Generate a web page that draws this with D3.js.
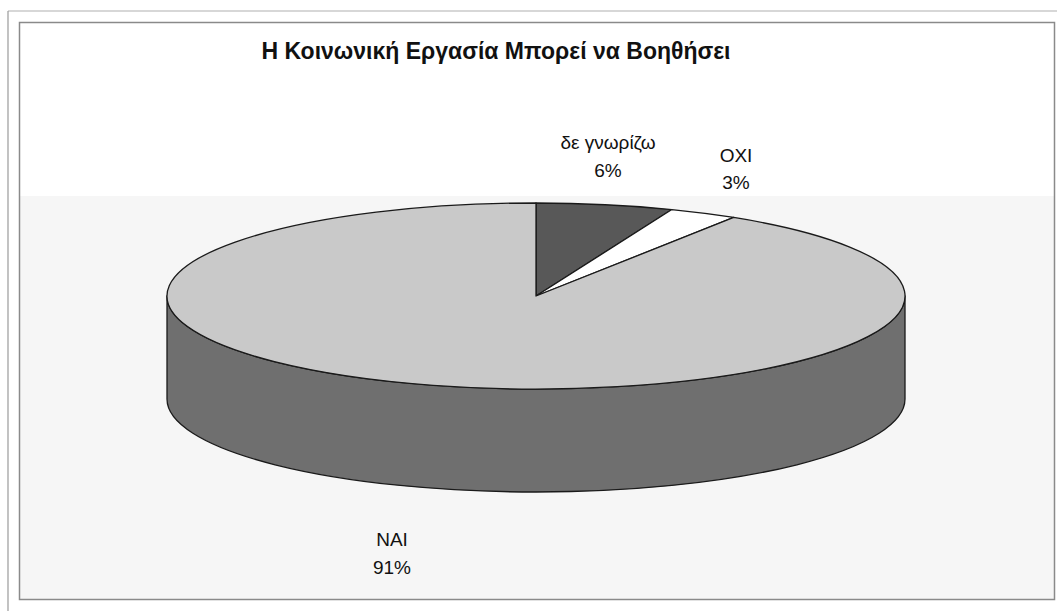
<!DOCTYPE html>
<html>
<head>
<meta charset="utf-8">
<script src="https://cdn.jsdelivr.net/npm/d3@7"></script>
<style>
  html, body { margin: 0; padding: 0; background: #ffffff; }
  svg { display: block; }
  text { font-family: "Liberation Sans", Arial, sans-serif; fill: #111; }
</style>
</head>
<body>
<svg id="chart" width="1057" height="611"></svg>
<script>
// ---- data ----
const title = "Η Κοινωνική Εργασία Μπορεί να Βοηθήσει";
const categories = ["δε γνωρίζω", "ΟΧΙ", "ΝΑΙ"];
const values = [6, 3, 91];
const percentLabels = ["6%", "3%", "91%"];
const topColors = ["#585858", "#ffffff", "#c9c9c9"];
const sideColors = ["#454545", "#e6e6e6", "#6f6f6f"];

// ---- layout ----
const cx = 536, cy = 296, rx = 369, ry = 93, depth = 103;

const svg = d3.select("#chart");

// frames
svg.append("line").attr("x1", 8).attr("y1", 11).attr("x2", 1057).attr("y2", 11)
  .attr("stroke", "#b0b0b0").attr("stroke-width", 1.2);
svg.append("line").attr("x1", 8).attr("y1", 11).attr("x2", 8).attr("y2", 611)
  .attr("stroke", "#9a9a9a").attr("stroke-width", 1.2);
svg.append("rect").attr("x", 20).attr("y", 196).attr("width", 1034).attr("height", 403)
  .attr("fill", "#f6f6f6");
svg.append("rect").attr("x", 19.5).attr("y", 22.5).attr("width", 1035).attr("height", 577)
  .attr("fill", "none").attr("stroke", "#8a8a8a").attr("stroke-width", 1.5);

// title
svg.append("text").attr("x", 496).attr("y", 59)
  .attr("text-anchor", "middle").style("font-size", "23px").style("font-weight", "bold")
  .text(title);

// pie
const pie = d3.pie().sort(null).value(d => d.v).startAngle(0).endAngle(2 * Math.PI);
const arcs = pie(categories.map((c, i) => ({ c, v: values[i], i })));

const color = d3.scaleOrdinal().domain(categories).range(topColors);
const sideColor = d3.scaleOrdinal().domain(categories).range(sideColors);

const px = a => cx + rx * Math.sin(a);
const py = a => cy - ry * Math.cos(a);

function topPath(a0, a1) {
  const large = (a1 - a0) > Math.PI ? 1 : 0;
  return `M${cx},${cy}L${px(a0)},${py(a0)}A${rx},${ry} 0 ${large} 1 ${px(a1)},${py(a1)}Z`;
}
function sidePath(s, e) {
  const large = (e - s) > Math.PI ? 1 : 0;
  return `M${px(s)},${py(s)}A${rx},${ry} 0 ${large} 1 ${px(e)},${py(e)}` +
         `L${px(e)},${py(e) + depth}A${rx},${ry} 0 ${large} 0 ${px(s)},${py(s) + depth}Z`;
}

const g = svg.append("g");
// sides (front half visible: pi/2 .. 3pi/2)
arcs.forEach(d => {
  const s = Math.max(d.startAngle, Math.PI / 2);
  const e = Math.min(d.endAngle, 3 * Math.PI / 2);
  if (e > s) {
    g.append("path").attr("d", sidePath(s, e))
      .attr("fill", sideColor(d.data.c)).attr("stroke", "#1a1a1a").attr("stroke-width", 1.3)
      .attr("stroke-linejoin", "round");
  }
});
// tops
arcs.forEach(d => {
  g.append("path").attr("d", topPath(d.startAngle, d.endAngle))
    .attr("fill", color(d.data.c)).attr("stroke", "#1a1a1a").attr("stroke-width", 1.3)
    .attr("stroke-linejoin", "round");
});

// labels
const labelPos = [
  { x: 608, y1: 149, y2: 177 },
  { x: 736, y1: 162, y2: 189 },
  { x: 392, y1: 546, y2: 574 }
];
arcs.forEach((d, i) => {
  const p = labelPos[i];
  const t = svg.append("text").attr("text-anchor", "middle").style("font-size", "19px");
  t.append("tspan").attr("x", p.x).attr("y", p.y1).text(categories[i]);
  t.append("tspan").attr("x", p.x).attr("y", p.y2).text(percentLabels[i]);
});
</script>
</body>
</html>
